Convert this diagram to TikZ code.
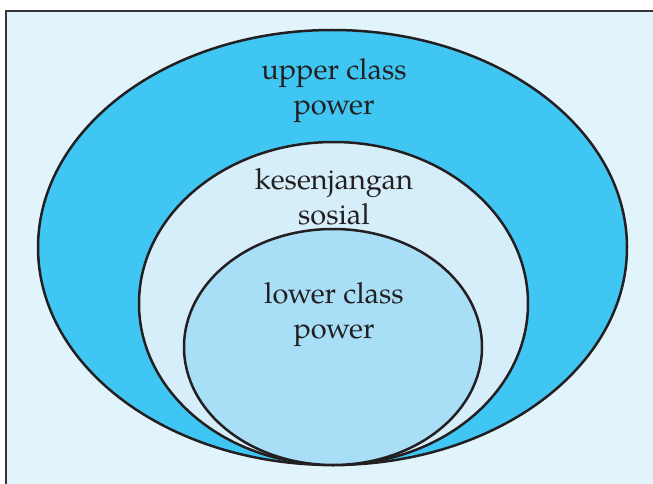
\documentclass[tikz,border=0pt]{standalone}
\usepackage{fontspec}
\setmainfont{TeX Gyre Pagella}
\definecolor{bgpanel}{HTML}{E1F4FC}
\definecolor{outerfill}{HTML}{40C6F2}
\definecolor{midfill}{HTML}{D6EEFA}
\definecolor{innerfill}{HTML}{A8DFF7}
\definecolor{inkline}{HTML}{231F20}
\begin{document}
\begin{tikzpicture}[x=1pt,y=-1pt,
  ring/.style={draw=inkline,line width=2.5pt},
  lbl/.style={align=center,text=inkline,font=\fontsize{29}{35}\selectfont,inner sep=0pt}]
  % page and framed panel
  \fill[white] (0,0) rectangle (653,484);
  \useasboundingbox (0,0) rectangle (653,484);
  \fill[bgpanel] (6,11) rectangle (653,484);
  \draw[inkline!90,line width=2.6pt] (6,484) -- (6,11) -- (653,11);
  % nested ellipses
  \draw[ring,fill=outerfill] (332.5,247.5) ellipse [x radius=294.5,y radius=217.5];
  \draw[ring,fill=midfill] (333.5,303.5) ellipse [x radius=194.5,y radius=161.5];
  \draw[ring,fill=innerfill] (333,347) ellipse [x radius=149,y radius=118];
  % labels
  \node[lbl] (upper) at (334,91) {upper class\\power};
  \node[lbl] (gap) at (334,197) {kesenjangan\\sosial};
  \node[lbl] (lower) at (334,315) {lower class\\power};
\end{tikzpicture}
\end{document}
